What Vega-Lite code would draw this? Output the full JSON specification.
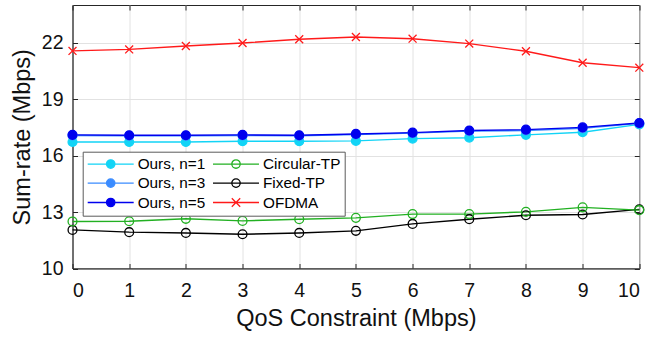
{
  "$schema": "https://vega.github.io/schema/vega-lite/v6.json",
  "width": 566.8,
  "height": 263.5,
  "autosize": "none",
  "padding": {"left": 72.5, "top": 5, "right": 11.7, "bottom": 69.5},
  "background": "white",
  "config": {
    "font": "Liberation Sans",
    "view": {"stroke": "#262626", "strokeWidth": 1},
    "axis": {
      "domainColor": "#262626",
      "tickColor": "#262626",
      "gridColor": "#e2e2e2",
      "gridWidth": 1,
      "labelColor": "#111111",
      "titleColor": "#111111",
      "labelFontSize": 19.5,
      "titleFontSize": 23.5,
      "titleFontWeight": "normal",
      "tickSize": -5,
      "labelFont": "Liberation Sans",
      "titleFont": "Liberation Sans"
    }
  },
  "data": {
    "values": [
      {"x": 0, "y": 21.56, "s": "OFDMA"}, {"x": 1, "y": 21.64, "s": "OFDMA"}, {"x": 2, "y": 21.82, "s": "OFDMA"}, {"x": 3, "y": 21.98, "s": "OFDMA"}, {"x": 4, "y": 22.18, "s": "OFDMA"}, {"x": 5, "y": 22.3, "s": "OFDMA"}, {"x": 6, "y": 22.21, "s": "OFDMA"}, {"x": 7, "y": 21.95, "s": "OFDMA"}, {"x": 8, "y": 21.54, "s": "OFDMA"}, {"x": 9, "y": 20.93, "s": "OFDMA"}, {"x": 10, "y": 20.67, "s": "OFDMA"},
      {"x": 0, "y": 12.05, "s": "Fixed-TP"}, {"x": 1, "y": 11.93, "s": "Fixed-TP"}, {"x": 2, "y": 11.89, "s": "Fixed-TP"}, {"x": 3, "y": 11.82, "s": "Fixed-TP"}, {"x": 4, "y": 11.89, "s": "Fixed-TP"}, {"x": 5, "y": 12.0, "s": "Fixed-TP"}, {"x": 6, "y": 12.37, "s": "Fixed-TP"}, {"x": 7, "y": 12.62, "s": "Fixed-TP"}, {"x": 8, "y": 12.83, "s": "Fixed-TP"}, {"x": 9, "y": 12.87, "s": "Fixed-TP"}, {"x": 10, "y": 13.14, "s": "Fixed-TP"},
      {"x": 0, "y": 12.5, "s": "Circular-TP"}, {"x": 1, "y": 12.51, "s": "Circular-TP"}, {"x": 2, "y": 12.64, "s": "Circular-TP"}, {"x": 3, "y": 12.53, "s": "Circular-TP"}, {"x": 4, "y": 12.62, "s": "Circular-TP"}, {"x": 5, "y": 12.69, "s": "Circular-TP"}, {"x": 6, "y": 12.89, "s": "Circular-TP"}, {"x": 7, "y": 12.89, "s": "Circular-TP"}, {"x": 8, "y": 13.01, "s": "Circular-TP"}, {"x": 9, "y": 13.25, "s": "Circular-TP"}, {"x": 10, "y": 13.1, "s": "Circular-TP"},
      {"x": 0, "y": 16.72, "s": "Ours, n=1"}, {"x": 1, "y": 16.72, "s": "Ours, n=1"}, {"x": 2, "y": 16.72, "s": "Ours, n=1"}, {"x": 3, "y": 16.76, "s": "Ours, n=1"}, {"x": 4, "y": 16.76, "s": "Ours, n=1"}, {"x": 5, "y": 16.78, "s": "Ours, n=1"}, {"x": 6, "y": 16.9, "s": "Ours, n=1"}, {"x": 7, "y": 16.95, "s": "Ours, n=1"}, {"x": 8, "y": 17.1, "s": "Ours, n=1"}, {"x": 9, "y": 17.24, "s": "Ours, n=1"}, {"x": 10, "y": 17.66, "s": "Ours, n=1"},
      {"x": 0, "y": 17.07, "s": "Ours, n=3"}, {"x": 1, "y": 17.05, "s": "Ours, n=3"}, {"x": 2, "y": 17.05, "s": "Ours, n=3"}, {"x": 3, "y": 17.07, "s": "Ours, n=3"}, {"x": 4, "y": 17.05, "s": "Ours, n=3"}, {"x": 5, "y": 17.12, "s": "Ours, n=3"}, {"x": 6, "y": 17.19, "s": "Ours, n=3"}, {"x": 7, "y": 17.3, "s": "Ours, n=3"}, {"x": 8, "y": 17.33, "s": "Ours, n=3"}, {"x": 9, "y": 17.45, "s": "Ours, n=3"}, {"x": 10, "y": 17.71, "s": "Ours, n=3"},
      {"x": 0, "y": 17.1, "s": "Ours, n=5"}, {"x": 1, "y": 17.08, "s": "Ours, n=5"}, {"x": 2, "y": 17.08, "s": "Ours, n=5"}, {"x": 3, "y": 17.1, "s": "Ours, n=5"}, {"x": 4, "y": 17.08, "s": "Ours, n=5"}, {"x": 5, "y": 17.15, "s": "Ours, n=5"}, {"x": 6, "y": 17.22, "s": "Ours, n=5"}, {"x": 7, "y": 17.33, "s": "Ours, n=5"}, {"x": 8, "y": 17.38, "s": "Ours, n=5"}, {"x": 9, "y": 17.5, "s": "Ours, n=5"}, {"x": 10, "y": 17.73, "s": "Ours, n=5"}
    ]
  },
  "layer": [
    {
      "mark": {"type": "line", "strokeWidth": 1.4},
      "encoding": {
        "x": {"field": "x", "type": "quantitative", "scale": {"domain": [0, 10], "nice": false, "zero": false},
          "axis": {"orient": "bottom", "values": [0,1,2,3,4,5,6,7,8,9,10], "grid": true, "labelPadding": 18.2, "title": "QoS Constraint (Mbps)", "titleBaseline": "alphabetic", "titleY": 56.5}},
        "y": {"field": "y", "type": "quantitative", "scale": {"domain": [10, 24], "nice": false, "zero": false},
          "axis": {"orient": "left", "values": [10,13,16,19,22], "grid": true, "labelPadding": 14.5, "title": "Sum-rate (Mbps)", "titleBaseline": "alphabetic", "titleX": -42.7}},
        "color": {"field": "s", "type": "nominal",
          "scale": {"domain": ["Ours, n=1","Circular-TP","Ours, n=3","Fixed-TP","Ours, n=5","OFDMA"],
                    "range": ["#12d4f6","#22b022","#3b8cff","#000000","#0000ee","#ff1a1a"]},
          "legend": null}
      }
    },
    {
      "mark": {"type": "point", "opacity": 1, "strokeWidth": 1.3, "size": 78},
      "encoding": {
        "x": {"field": "x", "type": "quantitative", "axis": null},
        "y": {"field": "y", "type": "quantitative", "axis": null},
        "shape": {"field": "s", "type": "nominal",
          "scale": {"domain": ["Ours, n=1","Circular-TP","Ours, n=3","Fixed-TP","Ours, n=5","OFDMA"],
                    "range": ["circle","circle","circle","circle","circle","M-0.9,-0.9L0.9,0.9M-0.9,0.9L0.9,-0.9"]},
          "legend": null},
        "stroke": {"field": "s", "type": "nominal",
          "scale": {"domain": ["Ours, n=1","Circular-TP","Ours, n=3","Fixed-TP","Ours, n=5","OFDMA"],
                    "range": ["#12d4f6","#22b022","#3b8cff","#000000","#0000ee","#ff1a1a"]},
          "legend": null},
        "fill": {"field": "s", "type": "nominal",
          "scale": {"domain": ["Ours, n=1","Circular-TP","Ours, n=3","Fixed-TP","Ours, n=5","OFDMA"],
                    "range": ["#12d4f6","transparent","#3b8cff","transparent","#0000ee","transparent"]},
          "legend": null}
      }
    },
    {
      "transform": [{"filter": "false"}],
      "mark": {"type": "point", "opacity": 1, "strokeWidth": 1.3},
      "encoding": {
        "x": {"field": "x", "type": "quantitative", "axis": null},
        "y": {"field": "y", "type": "quantitative", "axis": null},
        "shape": {"field": "s", "type": "nominal",
          "scale": {"domain": ["Ours, n=1","Circular-TP","Ours, n=3","Fixed-TP","Ours, n=5","OFDMA"],
                    "range": [
                      "M-1,0L5.57,0M1.686,0A0.6,0.6,0,1,0,2.886,0A0.6,0.6,0,1,0,1.686,0Z",
                      "M-1,0L5.57,0M1.686,0A0.6,0.6,0,1,0,2.886,0A0.6,0.6,0,1,0,1.686,0Z",
                      "M-1,0L5.57,0M1.686,0A0.6,0.6,0,1,0,2.886,0A0.6,0.6,0,1,0,1.686,0Z",
                      "M-1,0L5.57,0M1.686,0A0.6,0.6,0,1,0,2.886,0A0.6,0.6,0,1,0,1.686,0Z",
                      "M-1,0L5.57,0M1.686,0A0.6,0.6,0,1,0,2.886,0A0.6,0.6,0,1,0,1.686,0Z",
                      "M-1,0L5.57,0M1.686,-0.6L2.886,0.6M1.686,0.6L2.886,-0.6"]},
          "legend": {"orient": "none", "legendX": 10.2, "legendY": 146.7, "columns": 2, "direction": "horizontal", "title": null,
            "symbolSize": 196, "symbolStrokeWidth": 1.3, "symbolOpacity": 1, "labelFontSize": 15.3, "labelFont": "Liberation Sans", "labelColor": "#000000",
            "labelOffset": 35, "columnPadding": 4.3, "rowPadding": 2.4, "padding": 4, "symbolLimit": 50,
            "strokeColor": "#5a5a5a", "fillColor": "white", "labelLimit": 200}},
        "stroke": {"field": "s", "type": "nominal",
          "scale": {"domain": ["Ours, n=1","Circular-TP","Ours, n=3","Fixed-TP","Ours, n=5","OFDMA"],
                    "range": ["#12d4f6","#22b022","#3b8cff","#000000","#0000ee","#ff1a1a"]},
          "legend": {"orient": "none", "legendX": 10.2, "legendY": 146.7, "columns": 2, "direction": "horizontal", "title": null}},
        "fill": {"field": "s", "type": "nominal",
          "scale": {"domain": ["Ours, n=1","Circular-TP","Ours, n=3","Fixed-TP","Ours, n=5","OFDMA"],
                    "range": ["#12d4f6","transparent","#3b8cff","transparent","#0000ee","transparent"]},
          "legend": {"orient": "none", "legendX": 10.2, "legendY": 146.7, "columns": 2, "direction": "horizontal", "title": null}}
      }
    },
    {
      "mark": {"type": "point", "opacity": 0},
      "encoding": {
        "x": {"field": "x", "type": "quantitative",
          "axis": {"orient": "top", "values": [0,1,2,3,4,5,6,7,8,9,10], "labels": false, "domain": false, "grid": false, "title": null}},
        "y": {"field": "y", "type": "quantitative",
          "axis": {"orient": "right", "values": [10,13,16,19,22], "labels": false, "domain": false, "grid": false, "title": null}}
      }
    }
  ],
  "resolve": {
    "scale": {"shape": "independent", "stroke": "independent", "fill": "independent"},
    "axis": {"x": "independent", "y": "independent"}
  }
}
